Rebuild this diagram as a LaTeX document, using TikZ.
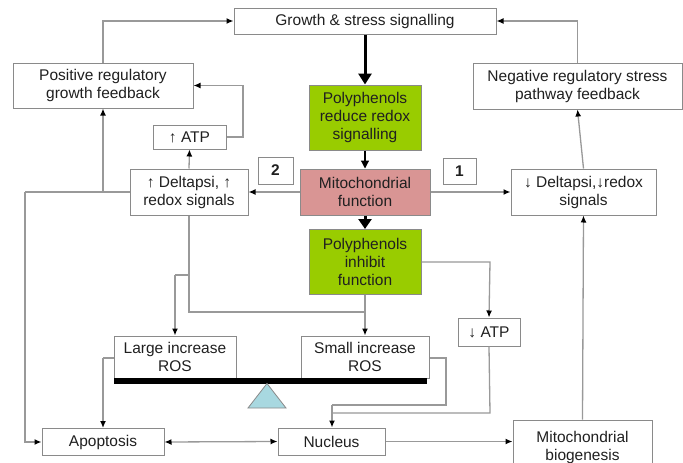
\documentclass[tikz,border=0pt]{standalone}
\usepackage{fontspec}
\setmainfont{Liberation Sans}
\usetikzlibrary{arrows.meta}
\definecolor{linegray}{HTML}{999999}
\definecolor{boxgray}{HTML}{8A8A8A}
\definecolor{pgreen}{HTML}{99CC00}
\definecolor{mpink}{HTML}{D99594}
\definecolor{tblue}{HTML}{A8D8E0}
\definecolor{txt}{HTML}{202020}
\begin{document}
\begin{tikzpicture}[x=1pt,y=-1pt,
  box/.style={draw=boxgray, line width=1pt, fill=white, align=center, inner sep=0pt,
    font=\fontsize{15.5}{18}\selectfont, text=txt},
  conn/.style={draw=linegray, line width=1.3pt, -{Latex[length=7pt,width=6pt,color=black]}},
  plain/.style={draw=linegray, line width=1.3pt},
  bigarrow/.style={draw=black, line width=3pt, -{Triangle[length=11pt,width=13pt]}},
  medarrow/.style={draw=black, line width=1.2pt, -{Triangle[length=8pt,width=8pt]}}]
\useasboundingbox (0,0) rectangle (683,463);
\fill[white] (0,0) rectangle (683,463);

\node[box, minimum width=262pt, minimum height=26pt] (growth) at (365,21) {Growth \& stress signalling};
\node[box, minimum width=180pt, minimum height=45pt] (pos) at (103,85.5) {Positive regulatory\\growth feedback};
\node[box, minimum width=209pt, minimum height=46pt] (neg) at (577.5,86) {Negative regulatory stress\\pathway feedback};
\node[box, fill=pgreen, minimum width=112pt, minimum height=65pt] (pred) at (365,117.5) {Polyphenols\\reduce redox\\signalling};
\node[box, minimum width=73pt, minimum height=24pt] (atpup) at (189.5,137) {↑ ATP};
\node[box, minimum width=35pt, minimum height=27pt, font=\fontsize{15.5}{18}\selectfont\bfseries] (two) at (275.5,170.5) {2};
\node[box, minimum width=33pt, minimum height=26pt, font=\fontsize{15.5}{18}\selectfont\bfseries] (one) at (459.5,171) {1};
\node[box, fill=mpink, minimum width=130pt, minimum height=46pt] (mito) at (365,192) {Mitochondrial\\function};
\node[box, minimum width=118pt, minimum height=46pt] (dup) at (189,192) {↑ Deltapsi, ↑\\redox signals};
\node[box, minimum width=145pt, minimum height=46pt] (ddown) at (583.5,192) {↓ Deltapsi,↓redox\\signals};
\node[box, fill=pgreen, minimum width=112pt, minimum height=65pt] (pinh) at (365,262) {Polyphenols\\inhibit\\function};
\node[box, minimum width=122pt, minimum height=42pt] (large) at (175,357) {Large increase\\ROS};
\node[box, minimum width=128pt, minimum height=42pt] (small) at (365,357) {Small increase\\ROS};
\node[box, minimum width=62pt, minimum height=28pt] (atpdown) at (489,332) {↓ ATP};
\node[box, minimum width=122pt, minimum height=27pt] (apop) at (103,442) {Apoptosis};
\node[box, minimum width=107pt, minimum height=27pt] (nuc) at (331.5,441.5) {Nucleus};
\node[box, minimum width=139pt, minimum height=52pt, text depth=0pt] (bio) at (582.5,446) {Mitochondrial\\biogenesis};

% balance bar and fulcrum
\fill[black] (114,378) rectangle (427,383.5);
\draw[fill=tblue, draw=boxgray, line width=0.8pt] (267,383.5) -- (248,408) -- (286,408) -- cycle;

% main thick arrows
\draw[bigarrow] (growth.south) -- (pred.north);
\draw[medarrow] (pred.south) -- (mito.north);
\draw[bigarrow, -{Triangle[length=10pt,width=13pt]}] (mito.south) -- (pinh.north);

% mito to side boxes
\draw[conn] (mito.west) -- (dup.east);
\draw[conn] (mito.east) -- (ddown.west);

% left side
\draw[conn] (dup.north) -- (atpup.south);
\coordinate (atpr) at (243,137);
\draw[conn] (atpup.east) -- (atpr) |- (pos.east);
\draw[conn] (pos.north) |- (growth.west);
\coordinate (jl) at (103,192);
\coordinate (farl) at (25,192);
\draw[plain] (dup.west) -- (farl);
\draw[conn] (farl) |- (apop.west);
\draw[conn] (jl) -- (pos.south);

% right side
\draw[conn] (ddown.north) -- (neg.south);
\draw[conn] (neg.north) |- (growth.east);
\draw[conn] (bio.north) -- (ddown.south);

% middle down
\coordinate (dj) at (189,312);
\coordinate (br) at (189,275);
\coordinate (brl) at (175,275);
\draw[plain] (dup.south) -- (dj) -- (365,312);
\draw[plain] (br) -- (brl);
\draw[conn] (brl) -- (large.north);
\draw[conn] (pinh.south) -- (small.north);
\coordinate (pr) at (490,262);
\draw[conn] (pinh.east) -- (pr) -- (atpdown.north);

% to nucleus
\coordinate (sr1) at (446,358);
\coordinate (sr2) at (446,405);
\coordinate (nj) at (332,405);
\draw[plain] (small.east |- sr1) -- (sr1) -- (sr2) -- (nj);
\draw[conn] (nj) -- (nuc.north -| nj);
\coordinate (ad) at (490,413);
\draw[plain] (atpdown.south) -- (ad) -- (332,413);

% large to apoptosis
\coordinate (ll) at (103,358);
\draw[plain] (large.west |- ll) -- (ll);
\draw[conn] (ll) -- (apop.north);

% bottom row
\draw[conn, {Latex[length=7pt,width=6pt,color=black]}-{Latex[length=7pt,width=6pt,color=black]}] (apop.east) -- (nuc.west);
\draw[conn] (nuc.east) -- (bio.west |- nuc.east);
\end{tikzpicture}
\end{document}
